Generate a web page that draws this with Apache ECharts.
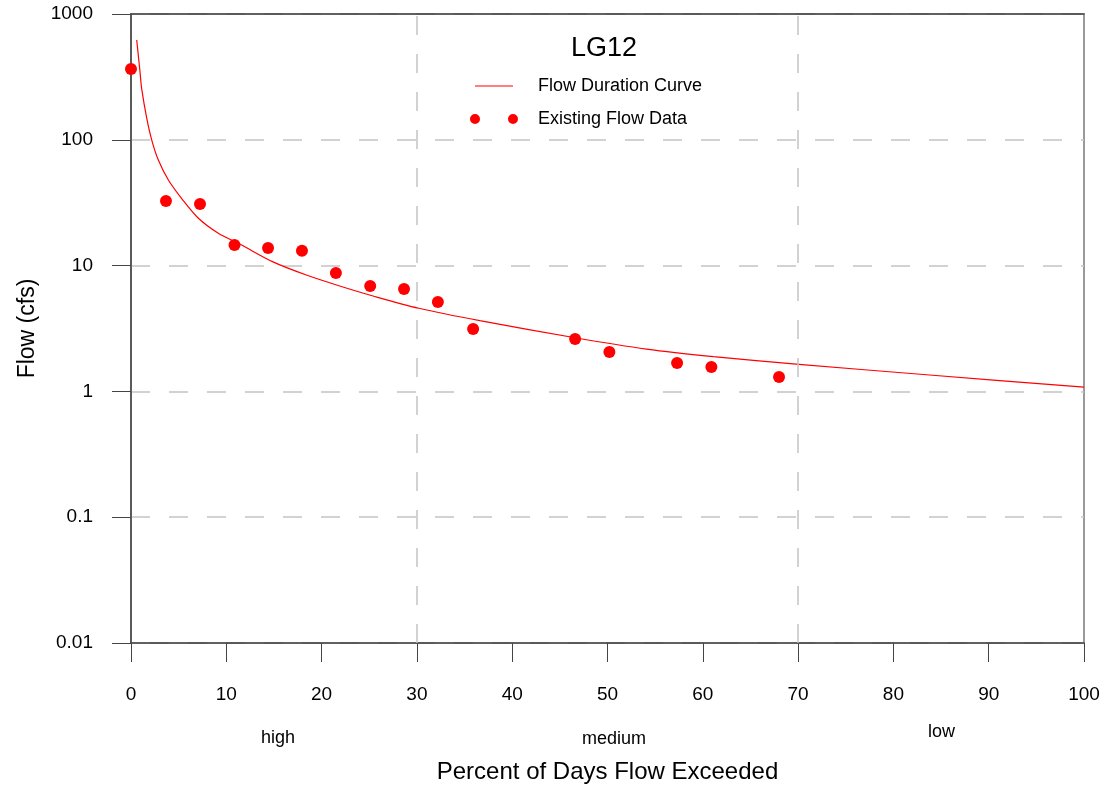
<!DOCTYPE html>
<html>
<head>
<meta charset="utf-8">
<title>LG12</title>
<script src="https://cdn.jsdelivr.net/npm/echarts@6/dist/echarts.min.js"></script>
<style>
  html, body { margin: 0; padding: 0; background: #fff; }
  #chart { width: 1106px; height: 790px; }
</style>
</head>
<body>
<div id="chart"></div>
<script>
// flow duration curve: [percent exceeded, cfs]
const curvePoints = [
  [0.6, 621], [0.94, 350], [1.12, 255], [1.64, 150],
  [2.17, 100], [2.87, 69], [3.92, 47.9], [5.4, 33.5], [7.07, 23.8],
  [9.16, 18.1], [11.5, 14.7], [14.9, 10.7], [18.4, 8.41], [21.9, 6.88],
  [25.4, 5.73], [30.2, 4.58], [36.6, 3.65], [46.6, 2.67], [54.1, 2.17],
  [61.1, 1.89], [70.1, 1.64], [83.8, 1.35], [100, 1.08]
];
// existing flow data points
const flowPoints = [
  [0, 365], [3.67, 32.6], [7.24, 30.9], [10.86, 14.6], [14.38, 13.8],
  [17.94, 13.1], [21.5, 8.74], [25.1, 6.88], [28.65, 6.52], [32.2, 5.13],
  [35.9, 3.13], [46.6, 2.61], [50.2, 2.06], [57.3, 1.68], [60.9, 1.56],
  [68.0, 1.30]
];
const zoneBreaks = [30, 70];
const zoneLabels = ['high', 'medium', 'low'];
const yTickLabels = { 0.01: '0.01', 0.1: '0.1', 1: '1', 10: '10', 100: '100', 1000: '1000' };

const chart = echarts.init(document.getElementById('chart'), null, { renderer: 'canvas' });
const font = 'Liberation Sans, Arial, sans-serif';
const gridDash = { color: '#c4c4c4', width: 1.5, type: [19, 19] };

const option = {
  animation: false,
  backgroundColor: '#fff',
  title: {
    text: 'LG12',
    left: 599,
    top: 30,
    textAlign: 'center',
    textStyle: { fontFamily: font, fontSize: 27, fontWeight: 'normal', color: '#000' }
  },
  legend: {
    orient: 'vertical',
    left: 465,
    top: 70,
    itemWidth: 48,
    itemHeight: 11,
    itemGap: 11,
    selectedMode: false,
    textStyle: { fontFamily: font, fontSize: 18, color: '#000', lineHeight: 22, padding: [0, 0, 0, 15] },
    data: [
      { name: 'Flow Duration Curve', icon: 'path://M0,0M48,10M5,4.4h38v1.2h-38z' },
      {
        name: 'Existing Flow Data',
        icon: 'path://M0,5a5,5 0 1,0 10,0a5,5 0 1,0 -10,0zM38,5a5,5 0 1,0 10,0a5,5 0 1,0 -10,0z'
      }
    ]
  },
  grid: {
    left: 131, right: 22, top: 14, bottom: 147,
    show: true, borderColor: '#7a7a7a', borderWidth: 1.5
  },
  xAxis: [
    {
      type: 'value',
      min: 0, max: 100, interval: 10,
      name: 'Percent of Days Flow Exceeded',
      nameLocation: 'middle',
      nameGap: 117,
      nameTextStyle: { fontFamily: font, fontSize: 24, color: '#000' },
      axisLine: { show: true, lineStyle: { color: '#444', width: 1.5 } },
      axisTick: { show: true, length: 19, lineStyle: { color: '#444', width: 1 } },
      axisLabel: { margin: 42, fontFamily: font, fontSize: 19, color: '#000' },
      splitLine: { show: false }
    },
    {
      // top frame line
      type: 'value',
      position: 'top',
      min: 0, max: 100,
      axisLine: { show: true, lineStyle: { color: '#444', width: 1.5 } },
      axisTick: { show: false },
      axisLabel: { show: false },
      splitLine: { show: false }
    }
  ],
  yAxis: {
    type: 'log',
    logBase: 10,
    min: 0.01, max: 1000,
    name: 'Flow (cfs)',
    nameLocation: 'middle',
    nameGap: 92,
    nameTextStyle: { fontFamily: font, fontSize: 23, color: '#000' },
    axisLine: { show: true, lineStyle: { color: '#444', width: 1.5 } },
    axisTick: { show: true, length: 19, lineStyle: { color: '#444', width: 1 } },
    axisLabel: {
      margin: 38, fontFamily: font, fontSize: 19, color: '#000',
      formatter: function (v) {
        const key = Number(v.toPrecision(3));
        return yTickLabels[key] !== undefined ? yTickLabels[key] : String(key);
      }
    },
    splitLine: { show: true, lineStyle: gridDash }
  },
  graphic: [
    { type: 'text', left: 261, top: 729, style: { text: zoneLabels[0], font: '18px ' + font, fill: '#000' } },
    { type: 'text', left: 582, top: 730, style: { text: zoneLabels[1], font: '18px ' + font, fill: '#000' } },
    { type: 'text', left: 928, top: 723, style: { text: zoneLabels[2], font: '18px ' + font, fill: '#000' } }
  ],
  series: [
    {
      name: 'Flow Duration Curve',
      type: 'line',
      data: curvePoints,
      smooth: 0.3,
      symbol: 'none',
      showSymbol: false,
      color: '#ff0000',
      lineStyle: { color: '#ff0000', width: 1.2 },
      z: 3,
      markLine: {
        silent: true,
        symbol: 'none',
        label: { show: false },
        lineStyle: gridDash,
        data: zoneBreaks.map(function (v) { return { xAxis: v }; })
      }
    },
    {
      name: 'Existing Flow Data',
      type: 'scatter',
      data: flowPoints,
      symbol: 'circle',
      symbolSize: 12,
      color: '#ff0000',
      itemStyle: { color: '#ff0000', opacity: 1 },
      z: 4
    }
  ]
};

chart.setOption(option);
</script>
</body>
</html>
